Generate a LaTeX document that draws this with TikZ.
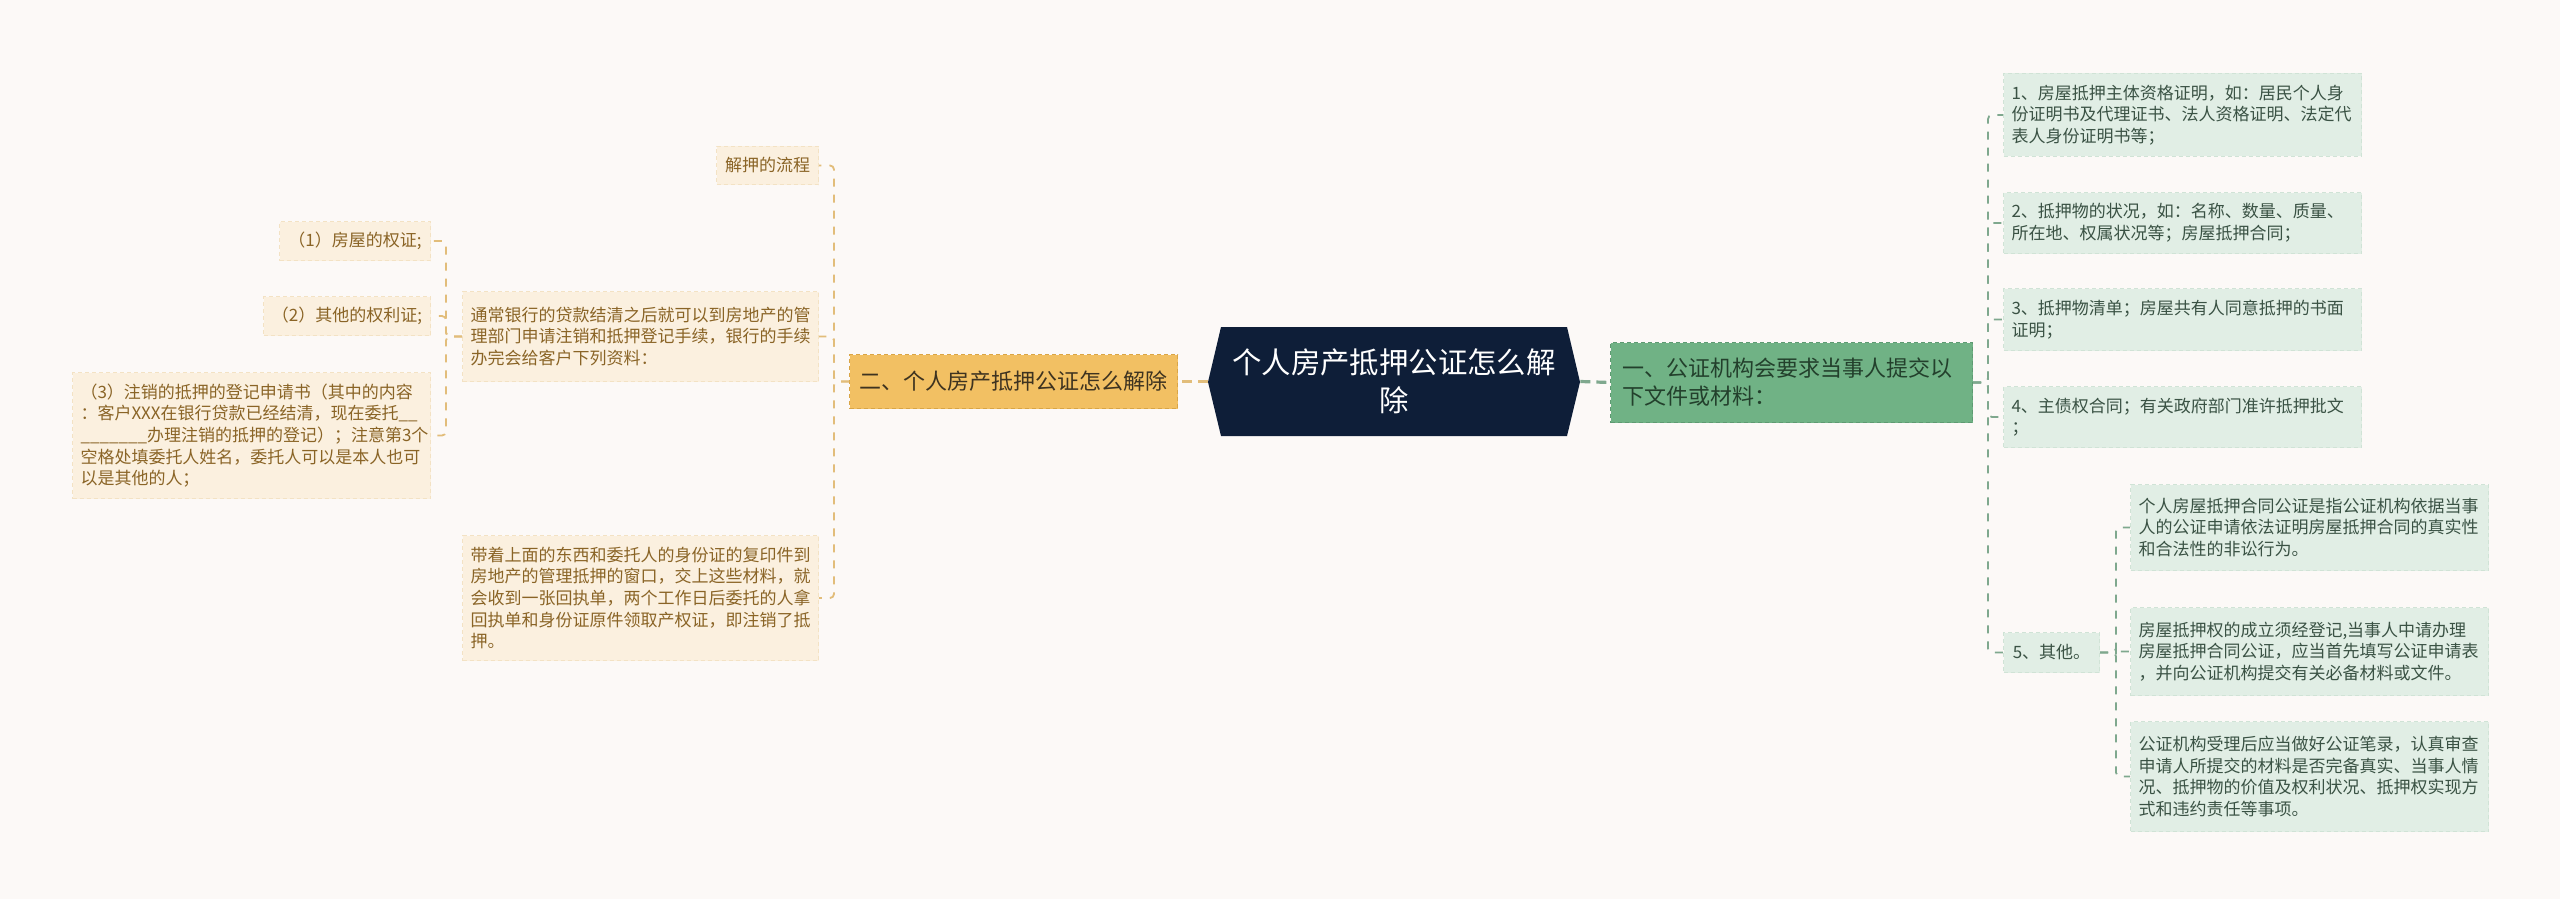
\documentclass[tikz,border=0pt]{standalone}
\usepackage{fontspec}
\setmainfont{Noto Sans CJK SC}
\definecolor{bg}{HTML}{FCF9F7}
\definecolor{lfill}{HTML}{FBF0DF}
\definecolor{lborder}{HTML}{F3E2C4}
\definecolor{ltext}{HTML}{8A6426}
\definecolor{lconnc}{HTML}{E2BD7A}
\definecolor{lmfill}{HTML}{F2C063}
\definecolor{lmborder}{HTML}{D9A546}
\definecolor{lmtext}{HTML}{3E3320}
\definecolor{navy}{HTML}{0E1E38}
\definecolor{rmfill}{HTML}{70B285}
\definecolor{rmborder}{HTML}{5E9A72}
\definecolor{rmtext}{HTML}{23402C}
\definecolor{rfill}{HTML}{E1EEE5}
\definecolor{rborder}{HTML}{D0E3D6}
\definecolor{rtext}{HTML}{3A5244}
\definecolor{rconnc}{HTML}{7FA88E}
\newcommand\fsub{\fontsize{8.5pt}{10.85pt}\selectfont}
\newcommand\fmain{\fontsize{11pt}{14pt}\selectfont}
\newcommand\fcenter{\fontsize{14.7pt}{18.75pt}\selectfont}
\tikzset{
  box/.style={anchor=north west, inner xsep=4pt, inner ysep=0pt, dashed, dash pattern=on 2pt off 1.5pt, line width=0.5pt},
  lsub/.style={box, fill=lfill, draw=lborder, text=ltext, font=\fsub, align=left},
  rsub/.style={box, fill=rfill, draw=rborder, text=rtext, font=\fsub, align=left},
  lconn/.style={draw=lconnc, line width=0.9pt, dash pattern=on 4pt off 4pt, rounded corners=2pt},
  rconn/.style={draw=rconnc, line width=0.9pt, dash pattern=on 4pt off 4pt, rounded corners=2pt},
  lmconn/.style={draw=lconnc, line width=1.6pt, dash pattern=on 5pt off 3pt},
  rmconn/.style={draw=rconnc, line width=1.6pt, dash pattern=on 5pt off 3pt},
}
\begin{document}
\begin{tikzpicture}[x=0.5pt, y=-0.5pt]
\fill[bg] (0,0) rectangle (2560,899);
\useasboundingbox (0,0) rectangle (2560,899);

% center hexagon
\fill[navy] (1208,382) -- (1221,327) -- (1567,327) -- (1580,382) -- (1567,436) -- (1221,436) -- cycle;
\node[minimum width=186pt, minimum height=54.5pt, inner sep=0pt, text=white, font=\fcenter, align=center] (c) at (1394,381.5) {个人房产抵押公证怎么解\\除};

% main nodes
\node[box, fill=lmfill, draw=lmborder, text=lmtext, font=\fmain, minimum width=164pt, minimum height=27pt, align=center] (lm) at (849,354) {二、个人房产抵押公证怎么解除};
\node[box, fill=rmfill, draw=rmborder, text=rmtext, font=\fmain, inner xsep=6pt, text width=169pt, minimum height=40pt, align=left] (rm) at (1610,342) {一、公证机构会要求当事人提交以\\下文件或材料：};

% left children
\node[lsub, minimum width=51pt, minimum height=19pt, align=center] (l1) at (716,146) {解押的流程};
\node[lsub, text width=170pt, minimum height=45pt] (l2) at (462,291) {通常银行的贷款结清之后就可以到房地产的管\\理部门申请注销和抵押登记手续，银行的手续\\办完会给客户下列资料：};
\node[lsub, text width=170pt, minimum height=62.5pt] (l3) at (462,535) {带着上面的东西和委托人的身份证的复印件到\\房地产的管理抵押的窗口，交上这些材料，就\\会收到一张回执单，两个工作日后委托的人拿\\回执单和身份证原件领取产权证，即注销了抵\\押。};

% left grandchildren
\node[lsub, minimum width=75.5pt, minimum height=19.5pt, align=right] (g1) at (279,221) {（1）房屋的权证;};
\node[lsub, minimum width=83.5pt, minimum height=19.5pt, align=right] (g2) at (263,296) {（2）其他的权利证;};
\node[lsub, text width=171pt, minimum height=63pt] (g3) at (72,372) {（3）注销的抵押的登记申请书（其中的内容\\：客户XXX在银行贷款已经结清，现在委托\_\_\\\_\_\_\_\_\_\_办理注销的抵押的登记）；注意第3个\\空格处填委托人姓名，委托人可以是本人也可\\以是其他的人；};

% right children
\node[rsub, text width=171pt, minimum height=41.5pt] (r1) at (2003,73) {1、房屋抵押主体资格证明，如：居民个人身\\份证明书及代理证书、法人资格证明、法定代\\表人身份证明书等；};
\node[rsub, text width=171pt, minimum height=30.5pt] (r2) at (2003,192) {2、抵押物的状况，如：名称、数量、质量、\\所在地、权属状况等；房屋抵押合同；};
\node[rsub, text width=171pt, minimum height=31pt] (r3) at (2003,288) {3、抵押物清单；房屋共有人同意抵押的书面\\证明；};
\node[rsub, text width=171pt, minimum height=30.5pt] (r4) at (2003,386) {4、主债权合同；有关政府部门准许抵押批文\\；};
\node[rsub, minimum width=48pt, minimum height=20pt, align=center] (r5) at (2003,632) {5、其他。};

% right grandchildren
\node[rsub, text width=171pt, minimum height=43pt] (s1) at (2130,484) {个人房屋抵押合同公证是指公证机构依据当事\\人的公证申请依法证明房屋抵押合同的真实性\\和合法性的非讼行为。};
\node[rsub, text width=171pt, minimum height=44pt] (s2) at (2130,607) {房屋抵押权的成立须经登记,当事人中请办理\\房屋抵押合同公证，应当首先填写公证申请表\\，并向公证机构提交有关必备材料或文件。};
\node[rsub, text width=171pt, minimum height=55pt] (s3) at (2130,721) {公证机构受理后应当做好公证笔录，认真审查\\申请人所提交的材料是否完备真实、当事人情\\况、抵押物的价值及权利状况、抵押权实现方\\式和违约责任等事项。};

% connectors
\draw[lmconn] (c.west) -- (lm.east);
\draw[rmconn] (c.east) -- (rm.west);

\foreach \n in {l1,l2,l3} \draw[lconn] (lm.west) -- ++(-15,0) |- (\n.east);
\foreach \n in {g1,g2,g3} \draw[lconn] (l2.west) -- ++(-16,0) |- (\n.east);
\foreach \n in {r1,r2,r3,r4,r5} \draw[rconn] (rm.east) -- ++(15,0) |- (\n.west);
\foreach \n in {s1,s2,s3} \draw[rconn] (r5.east) -- ++(16,0) |- (\n.west);
\end{tikzpicture}
\end{document}
